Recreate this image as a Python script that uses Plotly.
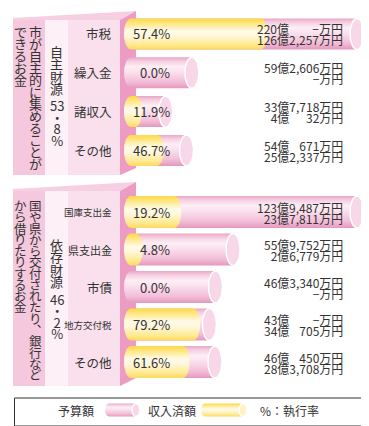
import numpy as np
import plotly.graph_objects as go

W, H = 369, 426

# ---------------- data ----------------
top_labels = ["市税", "繰入金", "諸収入", "その他"]
top_budget = [2200000, 592606, 337718, 540671]      # 万円
top_received = [1262257, 0, 40032, 252337]          # 万円
top_rate = [57.4, 0.0, 11.9, 46.7]                  # %

bot_labels = ["国庫支出金", "県支出金", "市債", "地方交付税", "その他"]
bot_budget = [1239487, 559752, 463340, 430000, 460450]
bot_received = [237811, 26779, 0, 340705, 283708]
bot_rate = [19.2, 4.8, 0.0, 79.2, 61.6]

top_title = "自主財源"
top_share = ["53", "・", "8", "%"]
top_desc = ["市が自主的に集めることが", "できるお金"]
bot_title = "依存財源"
bot_share = ["46", "・", "2", "%"]
bot_desc = ["国や県から交付されたり\ufe11銀行など", "から借りたりするお金"]

legend_texts = ["予算額", "収入済額", "%：執行率"]

# ---------------- style ----------------
FONT = "Noto Sans CJK JP, Noto Sans, sans-serif"
TXT = "#333333"
PINK_SCALE = [[0, "#eaa6c7"], [0.12, "#f5cde0"], [0.3, "#fdeef5"], [0.45, "#fbe3ee"],
              [0.8, "#f2bdd7"], [1, "#e597bd"]]
YEL_SCALE = [[0, "#ffd845"], [0.15, "#ffe67f"], [0.4, "#fffae6"], [0.55, "#fff8df"],
             [0.85, "#ffe98f"], [1, "#fdd95e"]]
FACE = "#f8d8e8"
small_label = {"国庫支出金": 9.5, "地方交付税": 9.5, "県支出金": 11}
LINE_SPACING = 1.3   # plotly's multi-line spacing in em of the base font

FS, PS = "\u2007", "\u2008"


def yen(v):
    oku, man = divmod(int(v), 10000)
    if oku == 0 and man == 0:
        return "−万円"
    if man == 0:
        m, pad = "−", FS * 3 + PS
    elif man >= 1000:
        m, pad = f"{man:,}", ""
    elif man >= 100:
        m, pad = f"{man}", FS + PS
    elif man >= 10:
        m, pad = f"{man}", FS * 2 + PS
    else:
        m, pad = f"{man}", FS * 3 + PS
    return f"{oku}億{pad}{m}万円"


def px2x(px):
    return px / W


def py2y(py):
    return 1 - py / H


def stacked(tokens, glyph_size):
    return "<br>".join(f"<span style='font-size:{glyph_size}px'>{t}</span>" for t in tokens)


fig = go.Figure()


def cyl(x0, x1, yc, hh, rx, n=30):
    t = np.linspace(-np.pi / 2, np.pi / 2, n)
    xs = list(x1 + rx * np.cos(t))
    ys = list(yc + hh * np.sin(t))
    t2 = np.linspace(np.pi / 2, 3 * np.pi / 2, n)
    xs += list(x0 + rx * np.cos(t2))
    ys += list(yc + hh * np.sin(t2))
    xs.append(xs[0]); ys.append(ys[0])
    return xs, ys


def ell(xc, yc, hh, rx, n=40):
    t = np.linspace(0, 2 * np.pi, n)
    return list(xc + rx * np.cos(t)), list(yc + hh * np.sin(t))


def add_cyl(x0, x1, yc, hh, rx, scale, xa, ya):
    xs, ys = cyl(x0, x1, yc, hh, rx)
    fig.add_trace(go.Scatter(x=xs, y=ys, xaxis=xa, yaxis=ya, mode="lines", line=dict(width=0),
                             fill="toself",
                             fillgradient=dict(type="vertical", colorscale=scale,
                                               start=yc - hh, stop=yc + hh),
                             hoverinfo="skip", showlegend=False))


def add_face(x1, yc, hh, rx, xa, ya, color=FACE):
    xs, ys = ell(x1, yc, hh, rx)
    fig.add_trace(go.Scatter(x=xs, y=ys, xaxis=xa, yaxis=ya, mode="lines",
                             line=dict(width=1.4, color="#ffffff"), fill="toself",
                             fillcolor=color, hoverinfo="skip", showlegend=False))


sections = [
    dict(labels=top_labels, budget=top_budget, received=top_received, rate=top_rate,
         xa="x", ya="y", row0=26.0, pitch=38.8, bar_px=31.0),
    dict(labels=bot_labels, budget=bot_budget, received=bot_received, rate=bot_rate,
         xa="x2", ya="y2", row0=204.0, pitch=37.5, bar_px=32.0),
]

X0_PX, BODY_PX, CAP_PX = 123.0, 226.0, 7.0
VAL_GAP = 10.8
layout_axes = {}
for si, sec in enumerate(sections):
    n = len(sec["labels"])
    b = [v / 10000 for v in sec["budget"]]
    r = [v / 10000 for v in sec["received"]]
    s = BODY_PX / max(b)
    rx = CAP_PX / s
    hh = (sec["bar_px"] / 2) / sec["pitch"]
    for i in range(n):
        add_cyl(0, b[i], i, hh, rx, PINK_SCALE, sec["xa"], sec["ya"])
        if r[i] > 0:
            add_cyl(0, r[i], i, hh, rx, YEL_SCALE, sec["xa"], sec["ya"])
        add_face(b[i], i, hh, rx, sec["xa"], sec["ya"])
    top_px = sec["row0"] - sec["pitch"] / 2
    bot_px = sec["row0"] + (n - 0.5) * sec["pitch"]
    sfx = "" if si == 0 else str(si + 1)
    layout_axes["xaxis" + sfx] = dict(range=[-X0_PX / s, (W - X0_PX) / s], domain=[0, 1],
                                      visible=False, fixedrange=True, anchor="y" + sfx)
    layout_axes["yaxis" + sfx] = dict(range=[n - 0.5, -0.5], domain=[py2y(bot_px), py2y(top_px)],
                                      visible=False, fixedrange=True, anchor="x" + sfx)
    yref = "y" + sfx
    for i in range(n):
        lab = sec["labels"][i]
        fig.add_annotation(x=px2x(106), y=i, xref="paper", yref=yref, text=lab,
                           showarrow=False, xanchor="right", yanchor="middle",
                           font=dict(size=small_label.get(lab, 12.5), color=TXT, family=FONT))
        fig.add_annotation(x=px2x(163.5), y=i, xref="paper", yref=yref,
                           text=f"{sec['rate'][i]:.1f}%", showarrow=False,
                           xanchor="right", yanchor="middle",
                           font=dict(size=13, color=TXT, family=FONT))
        fig.add_annotation(x=px2x(336.5), y=i, xref="paper", yref=yref,
                           text=stacked([yen(sec["budget"][i]), yen(sec["received"][i])], 12),
                           showarrow=False, yshift=-0.5, align="right",
                           xanchor="right", yanchor="middle",
                           font=dict(size=VAL_GAP / LINE_SPACING, color=TXT, family=FONT))

# legend icons on a pixel-space overlay axis
layout_axes["xaxis3"] = dict(range=[0, W], domain=[0, 1], visible=False, fixedrange=True, anchor="y3")
layout_axes["yaxis3"] = dict(range=[H, 0], domain=[0, 1], visible=False, fixedrange=True, anchor="x3")
add_cyl(101, 128, 402, 6.5, 4, PINK_SCALE, "x3", "y3")
add_face(128, 402, 6.5, 4, "x3", "y3")
add_cyl(197, 235, 402, 6.5, 4, YEL_SCALE, "x3", "y3")
add_face(235, 402, 6.5, 4, "x3", "y3", color="#fff3c4")

for txt, cx in zip(legend_texts, [67.5, 163.5, 281]):
    fig.add_annotation(x=px2x(cx), y=py2y(402), xref="paper", yref="paper", text=txt,
                       showarrow=False, xanchor="center", yanchor="middle",
                       font=dict(size=12, color=TXT, family=FONT))

# ---------------- decorative panels ----------------
shapes = []


def poly(pts, color):
    d = "M " + " L ".join(f"{px2x(x):.5f},{py2y(y):.5f}" for x, y in pts) + " Z"
    shapes.append(dict(type="path", path=d, xref="paper", yref="paper", fillcolor=color,
                       line=dict(width=0), layer="below"))


def rect(x0, y0, x1, y1, color):
    shapes.append(dict(type="rect", x0=px2x(x0), x1=px2x(x1), y0=py2y(y1), y1=py2y(y0),
                       xref="paper", yref="paper", fillcolor=color,
                       line=dict(width=0), layer="below"))


rect(363, 0, W, H, "#e6f1fa")
for (yt, yb, ys_top, ys_bot) in [(12, 167, 3, 160), (183, 378, 174, 370)]:
    poly([(5, yt), (112, yt), (128, ys_top), (5, yt - 2)], "#f6d0e2")
    poly([(112, yt), (128, ys_top), (128, ys_bot), (112, yb)], "#ec9bc2")
    rect(5, yt, 37, yb, "#f5c8dd")
    rect(37, yt, 60, yb, "#fdf0f6")
    rect(60, yt, 112, yb, "#f9e0ec")

# legend box
shapes.append(dict(type="rect", x0=px2x(6.5), x1=px2x(357), y0=py2y(418), y1=py2y(390),
                   xref="paper", yref="paper", fillcolor="rgba(0,0,0,0)",
                   line=dict(color="#333333", width=1), layer="above"))

# ---------------- vertical texts (one text block per column) ----------------


def vcol(tokens, x_px, y_first, step, size=13):
    y_mid = y_first + step * (len(tokens) - 1) / 2
    fig.add_annotation(x=px2x(x_px), y=py2y(y_mid), xref="paper", yref="paper",
                       text=stacked(tokens, size), showarrow=False, align="center",
                       xanchor="center", yanchor="middle",
                       font=dict(size=step / LINE_SPACING, color=TXT, family=FONT))


vcol(list(top_desc[0]), 27, 23, 12.0)
vcol(list(top_desc[1]), 12, 23, 12.0)
vcol(list(top_title), 48.5, 44, 12.3)
vcol(top_share, 48.5, 97.5, 11.7)
vcol(list(bot_desc[0]), 27, 197, 11.27, 12.5)
vcol(list(bot_desc[1]), 12, 197, 11.27, 12.5)
vcol(list(bot_title), 48.5, 237, 12.3)
vcol(bot_share, 48.5, 291, 11.4)

fig.update_layout(width=W, height=H, margin=dict(l=0, r=0, t=0, b=0),
                  paper_bgcolor="#ffffff", plot_bgcolor="rgba(0,0,0,0)",
                  showlegend=False, shapes=shapes, **layout_axes)
fig.write_html("out.html", config={"displayModeBar": False})
